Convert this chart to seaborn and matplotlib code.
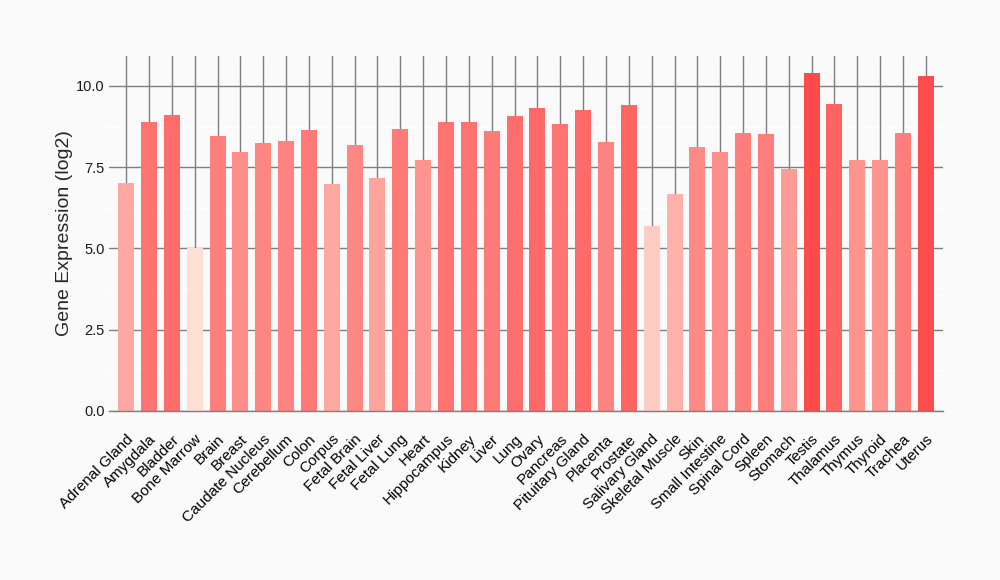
import matplotlib
matplotlib.use("Agg")
import matplotlib.pyplot as plt
import seaborn as sns
import numpy as np
import pandas as pd
from matplotlib.colors import LinearSegmentedColormap, Normalize

tissues = ["Adrenal Gland", "Amygdala", "Bladder", "Bone Marrow", "Brain", "Breast",
           "Caudate Nucleus", "Cerebellum", "Colon", "Corpus", "Fetal Brain", "Fetal Liver",
           "Fetal Lung", "Heart", "Hippocampus", "Kidney", "Liver", "Lung", "Ovary",
           "Pancreas", "Pituitary Gland", "Placenta", "Prostate", "Salivary Gland",
           "Skeletal Muscle", "Skin", "Small Intestine", "Spinal Cord", "Spleen", "Stomach",
           "Testis", "Thalamus", "Thymus", "Thyroid", "Trachea", "Uterus"]
values = [7.02, 8.89, 9.10, 5.02, 8.46, 7.97,
          8.25, 8.31, 8.65, 6.98, 8.18, 7.17,
          8.68, 7.72, 8.89, 8.89, 8.62, 9.08, 9.32,
          8.83, 9.26, 8.28, 9.42, 5.69,
          6.68, 8.12, 7.97, 8.55, 8.52, 7.45,
          10.40, 9.45, 7.72, 7.72, 8.55, 10.31]
y_ticks = [0.0, 2.5, 5.0, 7.5, 10.0]
y_label = "Gene Expression (log2)"

df = pd.DataFrame({"tissue": tissues, "value": values})

cmap = LinearSegmentedColormap.from_list("reds", ["#FFDED5", "#FF4A4A"])
norm = Normalize(vmin=min(values), vmax=max(values))
palette = {t: cmap(norm(v)) for t, v in zip(tissues, values)}

sns.set_style("white")
plt.rcParams['font.family'] = ['Liberation Sans', 'DejaVu Sans']

bg = "#FAFAFA"
fig = plt.figure(figsize=(10, 5.8), dpi=100, facecolor=bg)
ax = fig.add_axes([0.109, 0.2914, 0.834, 0.612])
ax.set_facecolor(bg)

sns.barplot(data=df, x="tissue", y="value", hue="tissue", palette=palette,
            dodge=False, width=0.7, legend=False, ax=ax, saturation=1,
            linewidth=0, edgecolor="none")

ax.set_xlim(-0.75, len(tissues) - 0.25)
ax.set_ylim(0, 10.92)
ax.set_yticks(y_ticks)
ax.set_yticklabels([f"{t:.1f}" for t in y_ticks])

# minor faint white grid lines
for m in [1.25, 3.75, 6.25, 8.75]:
    ax.axhline(m, color="white", lw=0.9, zorder=0.5)

ax.set_axisbelow(True)
ax.grid(True, axis="both", color="#7F7F7F", lw=1.0)

for s in ["top", "right", "left"]:
    ax.spines[s].set_visible(False)
ax.spines["bottom"].set_color("#7F7F7F")
ax.spines["bottom"].set_linewidth(1.0)

ax.tick_params(axis="x", length=13, width=1.0, color="#7F7F7F", pad=2, labelsize=11,
               labelcolor="black")
ax.tick_params(axis="y", length=2, width=1.0, color="#7F7F7F", pad=1, labelsize=10.5,
               labelcolor="#1a1a1a")
for lab in ax.get_xticklabels():
    lab.set_rotation(45)
    lab.set_ha("right")
    lab.set_va("top")
    lab.set_rotation_mode("anchor")

ax.set_xlabel("")
ax.set_ylabel(y_label, fontsize=14, labelpad=2)

fig.savefig("out.png", dpi=100, facecolor=bg)
